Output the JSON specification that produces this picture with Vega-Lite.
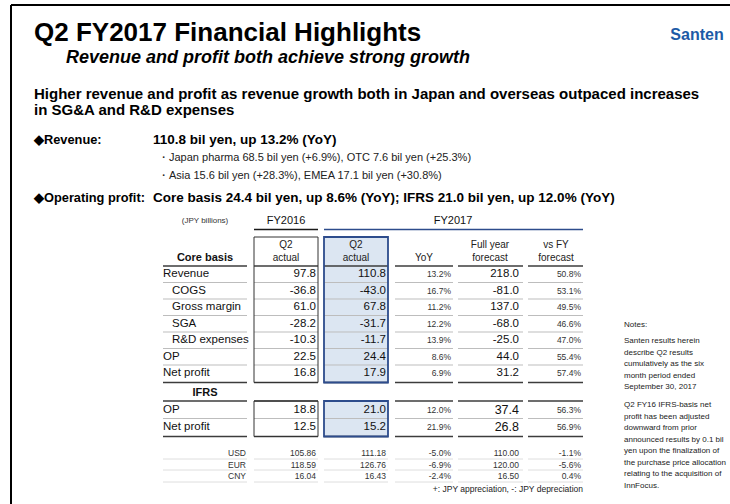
{
  "$schema": "https://vega.github.io/schema/vega-lite/v6.json",
  "width": 730,
  "height": 504,
  "autosize": "none",
  "padding": 0,
  "background": "white",
  "config": {"view": {"stroke": null}, "text": {"font": "Liberation Sans"}},
  "datasets": {
    "texts": [
      {"t": "Q2 FY2017 Financial Highlights", "c": 1, "r": 1, "k": "title"},
      {"t": "Santen", "c": 31, "r": 2, "k": "logo"},
      {"t": "Revenue and profit both achieve strong growth", "c": 2, "r": 3, "k": "sub"},
      {"t": "Higher revenue and profit as revenue growth both in Japan and overseas outpaced increases", "c": 1, "r": 4, "k": "head"},
      {"t": "in SG&A and R&D expenses", "c": 1, "r": 5, "k": "head"},
      {"t": "◆Revenue:", "c": 1, "r": 6, "k": "bull"},
      {"t": "110.8 bil yen, up 13.2% (YoY)", "c": 3, "r": 6, "k": "bulv"},
      {"t": "・Japan pharma 68.5 bil yen (+6.9%), OTC 7.6 bil yen (+25.3%)", "c": 4, "r": 7, "k": "bsub"},
      {"t": "・Asia 15.6 bil yen (+28.3%),  EMEA 17.1 bil yen (+30.8%)", "c": 4, "r": 8, "k": "bsub"},
      {"t": "◆Operating profit:", "c": 1, "r": 9, "k": "bull"},
      {"t": "Core basis 24.4 bil yen, up 8.6% (YoY);  IFRS 21.0 bil yen, up 12.0% (YoY)", "c": 3, "r": 9, "k": "bulv"},
      {"t": "(JPY billions)", "c": 7, "r": 10, "k": "unit"},
      {"t": "FY2016", "c": 11, "r": 10, "k": "fy"},
      {"t": "FY2017", "c": 21, "r": 10, "k": "fy"},
      {"t": "Q2", "c": 11, "r": 13, "k": "ch"},
      {"t": "actual", "c": 11, "r": 14, "k": "ch"},
      {"t": "Q2", "c": 15, "r": 13, "k": "ch"},
      {"t": "actual", "c": 15, "r": 14, "k": "ch"},
      {"t": "YoY", "c": 19, "r": 14, "k": "ch"},
      {"t": "Full year", "c": 23, "r": 13, "k": "ch"},
      {"t": "forecast", "c": 23, "r": 14, "k": "ch"},
      {"t": "vs FY", "c": 27, "r": 13, "k": "ch"},
      {"t": "forecast", "c": 27, "r": 14, "k": "ch"},
      {"t": "Core basis", "c": 7, "r": 14, "k": "sect"},
      {"t": "IFRS", "c": 7, "r": 30, "k": "sect"},
      {"t": "Revenue", "c": 5, "r": 16, "k": "lab"},
      {"t": "COGS", "c": 6, "r": 18, "k": "lab"},
      {"t": "Gross margin", "c": 6, "r": 20, "k": "lab"},
      {"t": "SGA", "c": 6, "r": 22, "k": "lab"},
      {"t": "R&D expenses", "c": 6, "r": 24, "k": "lab"},
      {"t": "OP", "c": 5, "r": 26, "k": "lab"},
      {"t": "Net profit", "c": 5, "r": 28, "k": "lab"},
      {"t": "OP", "c": 5, "r": 32, "k": "lab"},
      {"t": "Net profit", "c": 5, "r": 34, "k": "lab"},
      {"t": "97.8", "c": 12, "r": 16, "k": "val"},
      {"t": "110.8", "c": 16, "r": 16, "k": "val"},
      {"t": "13.2%", "c": 20, "r": 16, "k": "pct"},
      {"t": "218.0", "c": 24, "r": 16, "k": "val"},
      {"t": "50.8%", "c": 28, "r": 16, "k": "pct"},
      {"t": "-36.8", "c": 12, "r": 18, "k": "val"},
      {"t": "-43.0", "c": 16, "r": 18, "k": "val"},
      {"t": "16.7%", "c": 20, "r": 18, "k": "pct"},
      {"t": "-81.0", "c": 24, "r": 18, "k": "val"},
      {"t": "53.1%", "c": 28, "r": 18, "k": "pct"},
      {"t": "61.0", "c": 12, "r": 20, "k": "val"},
      {"t": "67.8", "c": 16, "r": 20, "k": "val"},
      {"t": "11.2%", "c": 20, "r": 20, "k": "pct"},
      {"t": "137.0", "c": 24, "r": 20, "k": "val"},
      {"t": "49.5%", "c": 28, "r": 20, "k": "pct"},
      {"t": "-28.2", "c": 12, "r": 22, "k": "val"},
      {"t": "-31.7", "c": 16, "r": 22, "k": "val"},
      {"t": "12.2%", "c": 20, "r": 22, "k": "pct"},
      {"t": "-68.0", "c": 24, "r": 22, "k": "val"},
      {"t": "46.6%", "c": 28, "r": 22, "k": "pct"},
      {"t": "-10.3", "c": 12, "r": 24, "k": "val"},
      {"t": "-11.7", "c": 16, "r": 24, "k": "val"},
      {"t": "13.9%", "c": 20, "r": 24, "k": "pct"},
      {"t": "-25.0", "c": 24, "r": 24, "k": "val"},
      {"t": "47.0%", "c": 28, "r": 24, "k": "pct"},
      {"t": "22.5", "c": 12, "r": 26, "k": "val"},
      {"t": "24.4", "c": 16, "r": 26, "k": "val"},
      {"t": "8.6%", "c": 20, "r": 26, "k": "pct"},
      {"t": "44.0", "c": 24, "r": 26, "k": "val"},
      {"t": "55.4%", "c": 28, "r": 26, "k": "pct"},
      {"t": "16.8", "c": 12, "r": 28, "k": "val"},
      {"t": "17.9", "c": 16, "r": 28, "k": "val"},
      {"t": "6.9%", "c": 20, "r": 28, "k": "pct"},
      {"t": "31.2", "c": 24, "r": 28, "k": "val"},
      {"t": "57.4%", "c": 28, "r": 28, "k": "pct"},
      {"t": "18.8", "c": 12, "r": 32, "k": "val"},
      {"t": "21.0", "c": 16, "r": 32, "k": "val"},
      {"t": "12.0%", "c": 20, "r": 32, "k": "pct"},
      {"t": "37.4", "c": 24, "r": 32, "k": "big"},
      {"t": "56.3%", "c": 28, "r": 32, "k": "pct"},
      {"t": "12.5", "c": 12, "r": 34, "k": "val"},
      {"t": "15.2", "c": 16, "r": 34, "k": "val"},
      {"t": "21.9%", "c": 20, "r": 34, "k": "pct"},
      {"t": "26.8", "c": 24, "r": 34, "k": "big"},
      {"t": "56.9%", "c": 28, "r": 34, "k": "pct"},
      {"t": "USD", "c": 8, "r": 36, "k": "ccy"},
      {"t": "105.86", "c": 12, "r": 36, "k": "ccy"},
      {"t": "111.18", "c": 16, "r": 36, "k": "ccy"},
      {"t": "-5.0%", "c": 20, "r": 36, "k": "ccy"},
      {"t": "110.00", "c": 24, "r": 36, "k": "ccy"},
      {"t": "-1.1%", "c": 28, "r": 36, "k": "ccy"},
      {"t": "EUR", "c": 8, "r": 38, "k": "ccy"},
      {"t": "118.59", "c": 12, "r": 38, "k": "ccy"},
      {"t": "126.76", "c": 16, "r": 38, "k": "ccy"},
      {"t": "-6.9%", "c": 20, "r": 38, "k": "ccy"},
      {"t": "120.00", "c": 24, "r": 38, "k": "ccy"},
      {"t": "-5.6%", "c": 28, "r": 38, "k": "ccy"},
      {"t": "CNY", "c": 8, "r": 40, "k": "ccy"},
      {"t": "16.04", "c": 12, "r": 40, "k": "ccy"},
      {"t": "16.43", "c": 16, "r": 40, "k": "ccy"},
      {"t": "-2.4%", "c": 20, "r": 40, "k": "ccy"},
      {"t": "16.50", "c": 24, "r": 40, "k": "ccy"},
      {"t": "0.4%", "c": 28, "r": 40, "k": "ccy"},
      {"t": "+: JPY appreciation, -: JPY depreciation", "c": 29, "r": 42, "k": "foot"},
      {"t": "Notes:", "c": 30, "r": 43, "k": "note"},
      {"t": "Santen results herein", "c": 30, "r": 44, "k": "note"},
      {"t": "describe Q2 results", "c": 30, "r": 45, "k": "note"},
      {"t": "cumulatively as the six", "c": 30, "r": 46, "k": "note"},
      {"t": "month period ended", "c": 30, "r": 47, "k": "note"},
      {"t": "September 30, 2017", "c": 30, "r": 48, "k": "note"},
      {"t": "Q2 FY16 IFRS-basis net", "c": 30, "r": 49, "k": "note"},
      {"t": "profit has been adjusted", "c": 30, "r": 50, "k": "note"},
      {"t": "downward from prior", "c": 30, "r": 51, "k": "note"},
      {"t": "announced results by 0.1 bil", "c": 30, "r": 52, "k": "note"},
      {"t": "yen upon the finalization of", "c": 30, "r": 53, "k": "note"},
      {"t": "the purchase price allocation", "c": 30, "r": 54, "k": "note"},
      {"t": "relating to the acquisition of", "c": 30, "r": 55, "k": "note"},
      {"t": "InnFocus.", "c": 30, "r": 56, "k": "note"}
    ],
    "hrules": [
      {"c": 0, "c2": 32, "r": 0, "k": "frame"},
      {"c": 5, "c2": 29, "r": 15, "k": "dark"},
      {"c": 5, "c2": 29, "r": 17, "k": "grey"},
      {"c": 5, "c2": 29, "r": 19, "k": "grey"},
      {"c": 5, "c2": 29, "r": 21, "k": "grey"},
      {"c": 5, "c2": 29, "r": 23, "k": "grey"},
      {"c": 5, "c2": 29, "r": 25, "k": "grey"},
      {"c": 5, "c2": 29, "r": 27, "k": "grey"},
      {"c": 5, "c2": 29, "r": 29, "k": "dark"},
      {"c": 5, "c2": 29, "r": 31, "k": "dark"},
      {"c": 5, "c2": 29, "r": 33, "k": "grey"},
      {"c": 5, "c2": 29, "r": 35, "k": "dark"},
      {"c": 5, "c2": 29, "r": 37, "k": "light"},
      {"c": 5, "c2": 29, "r": 39, "k": "light"},
      {"c": 5, "c2": 29, "r": 41, "k": "light"},
      {"c": 10, "c2": 13, "r": 11, "k": "fy16"},
      {"c": 14, "c2": 29, "r": 11, "k": "fy17"}
    ],
    "vrules": [
      {"c": 0, "r": 0, "r2": 57, "k": "frame"}
    ],
    "rects": [
      {"c": 14, "c2": 17, "r": 12, "r2": 29, "k": "fill17"},
      {"c": 14, "c2": 17, "r": 31, "r2": 35, "k": "fill17"},
      {"c": 9, "c2": 10, "r": 58, "r2": 59, "k": "gap"},
      {"c": 13, "c2": 14, "r": 58, "r2": 59, "k": "gap"},
      {"c": 17, "c2": 18, "r": 58, "r2": 59, "k": "gap"},
      {"c": 21, "c2": 22, "r": 58, "r2": 59, "k": "gap"},
      {"c": 25, "c2": 26, "r": 58, "r2": 59, "k": "gap"},
      {"c": 10, "c2": 13, "r": 12, "r2": 29, "k": "box16"},
      {"c": 10, "c2": 13, "r": 31, "r2": 35, "k": "box16"},
      {"c": 14, "c2": 17, "r": 12, "r2": 29, "k": "box17"},
      {"c": 14, "c2": 17, "r": 31, "r2": 35, "k": "box17"}
    ]
  },
  "encoding": {
    "x": {
      "field": "c",
      "type": "quantitative",
      "axis": null,
      "scale": {
        "nice": false,
        "zero": false,
        "domain": [0,1,2,3,4,5,6,7,8,9,10,11,12,13,14,15,16,17,18,19,20,21,22,23,24,25,26,27,28,29,30,31,32],
        "range": [11,34,66,153,158,163,172,205,246,247,254,286,316,318,324,356,386,388,395,424,451,453,458,490,519,523,528,556,581,583,624,697,730]
      }
    },
    "y": {
      "field": "r",
      "type": "quantitative",
      "axis": null,
      "scale": {
        "nice": false,
        "zero": false,
        "domain": [0,1,2,3,4,5,6,7,8,9,10,11,12,13,14,15,16,17,18,19,20,21,22,23,24,25,26,27,28,29,30,31,32,33,34,35,36,37,38,39,40,41,42,43,44,45,46,47,48,49,50,51,52,53,54,55,56,57,58,59],
        "range": [5,33,35,58,94,109.5,140,158,176,198,221,229.5,237,245,258,266,274,282.5,290.5,299,307,315.5,324,332,340,348.5,357,365,373,382.5,393,401,410,418.5,427,436.5,453,459,464.5,470,476,482,489,325,341,352.5,364,375.5,387,405,416.5,428,439.5,451,462.5,474,485.5,504,263,485]
      }
    }
  },
  "layer": [
    {"data": {"name": "rects"}, "transform": [{"filter": "datum.k === 'fill17'"}],
     "mark": {"type": "rect", "color": "#dce6f2", "strokeWidth": 0},
     "encoding": {"x2": {"field": "c2"}, "y2": {"field": "r2"}}},
    {"data": {"name": "hrules"}, "transform": [{"filter": "datum.k === 'grey'"}],
     "mark": {"type": "rule", "color": "#bdbdbd", "strokeWidth": 1},
     "encoding": {"x2": {"field": "c2"}}},
    {"data": {"name": "hrules"}, "transform": [{"filter": "datum.k === 'light'"}],
     "mark": {"type": "rule", "color": "#dedede", "strokeWidth": 1},
     "encoding": {"x2": {"field": "c2"}}},
    {"data": {"name": "hrules"}, "transform": [{"filter": "datum.k === 'dark'"}],
     "mark": {"type": "rule", "color": "#3c3c3c", "strokeWidth": 1.5},
     "encoding": {"x2": {"field": "c2"}}},
    {"data": {"name": "rects"}, "transform": [{"filter": "datum.k === 'gap'"}],
     "mark": {"type": "rect", "color": "white", "strokeWidth": 0},
     "encoding": {"x2": {"field": "c2"}, "y2": {"field": "r2"}}},
    {"data": {"name": "hrules"}, "transform": [{"filter": "datum.k === 'fy16'"}],
     "mark": {"type": "rule", "color": "#1a1a1a", "strokeWidth": 1.6},
     "encoding": {"x2": {"field": "c2"}}},
    {"data": {"name": "hrules"}, "transform": [{"filter": "datum.k === 'fy17'"}],
     "mark": {"type": "rule", "color": "#2d4c8c", "strokeWidth": 1.6},
     "encoding": {"x2": {"field": "c2"}}},
    {"data": {"name": "rects"}, "transform": [{"filter": "datum.k === 'box16'"}],
     "mark": {"type": "rect", "fillOpacity": 0, "fill": "white", "stroke": "#333333", "strokeWidth": 1},
     "encoding": {"x2": {"field": "c2"}, "y2": {"field": "r2"}}},
    {"data": {"name": "rects"}, "transform": [{"filter": "datum.k === 'box17'"}],
     "mark": {"type": "rect", "fillOpacity": 0, "fill": "white", "stroke": "#2d4c8c", "strokeWidth": 1.8},
     "encoding": {"x2": {"field": "c2"}, "y2": {"field": "r2"}}},
    {"data": {"name": "hrules"}, "transform": [{"filter": "datum.k === 'frame'"}],
     "mark": {"type": "rule", "color": "#000000", "strokeWidth": 2},
     "encoding": {"x2": {"field": "c2"}}},
    {"data": {"name": "vrules"},
     "mark": {"type": "rule", "color": "#000000", "strokeWidth": 2},
     "encoding": {"y2": {"field": "r2"}}},
    {"data": {"name": "texts"}, "transform": [{"filter": "datum.k === 'title'"}],
     "mark": {"type": "text", "align": "left", "baseline": "middle", "fontSize": 26, "fontWeight": "bold", "color": "#000000"},
     "encoding": {"text": {"field": "t"}}},
    {"data": {"name": "texts"}, "transform": [{"filter": "datum.k === 'logo'"}],
     "mark": {"type": "text", "align": "center", "baseline": "middle", "font": "Liberation Sans", "fontSize": 16, "fontWeight": "bold", "color": "#1d5aa6"},
     "encoding": {"text": {"field": "t"}}},
    {"data": {"name": "texts"}, "transform": [{"filter": "datum.k === 'sub'"}],
     "mark": {"type": "text", "align": "left", "baseline": "middle", "fontSize": 18, "fontWeight": "bold", "fontStyle": "italic", "color": "#000000"},
     "encoding": {"text": {"field": "t"}}},
    {"data": {"name": "texts"}, "transform": [{"filter": "datum.k === 'head'"}],
     "mark": {"type": "text", "align": "left", "baseline": "middle", "fontSize": 15, "fontWeight": "bold", "color": "#000000"},
     "encoding": {"text": {"field": "t"}}},
    {"data": {"name": "texts"}, "transform": [{"filter": "datum.k === 'bull'"}],
     "mark": {"type": "text", "align": "left", "baseline": "middle", "fontSize": 12.8, "fontWeight": "bold", "color": "#000000"},
     "encoding": {"text": {"field": "t"}}},
    {"data": {"name": "texts"}, "transform": [{"filter": "datum.k === 'bulv'"}],
     "mark": {"type": "text", "align": "left", "baseline": "middle", "fontSize": 13.5, "fontWeight": "bold", "color": "#000000"},
     "encoding": {"text": {"field": "t"}}},
    {"data": {"name": "texts"}, "transform": [{"filter": "datum.k === 'bsub'"}],
     "mark": {"type": "text", "align": "left", "baseline": "middle", "fontSize": 11, "color": "#222222"},
     "encoding": {"text": {"field": "t"}}},
    {"data": {"name": "texts"}, "transform": [{"filter": "datum.k === 'unit'"}],
     "mark": {"type": "text", "align": "center", "baseline": "middle", "fontSize": 8, "color": "#333333"},
     "encoding": {"text": {"field": "t"}}},
    {"data": {"name": "texts"}, "transform": [{"filter": "datum.k === 'fy'"}],
     "mark": {"type": "text", "align": "center", "baseline": "middle", "fontSize": 11, "color": "#111111"},
     "encoding": {"text": {"field": "t"}}},
    {"data": {"name": "texts"}, "transform": [{"filter": "datum.k === 'ch'"}],
     "mark": {"type": "text", "align": "center", "baseline": "middle", "fontSize": 10, "color": "#222222"},
     "encoding": {"text": {"field": "t"}}},
    {"data": {"name": "texts"}, "transform": [{"filter": "datum.k === 'sect'"}],
     "mark": {"type": "text", "align": "center", "baseline": "middle", "fontSize": 11, "fontWeight": "bold", "color": "#111111"},
     "encoding": {"text": {"field": "t"}}},
    {"data": {"name": "texts"}, "transform": [{"filter": "datum.k === 'lab'"}],
     "mark": {"type": "text", "align": "left", "baseline": "middle", "fontSize": 11.5, "color": "#111111"},
     "encoding": {"text": {"field": "t"}}},
    {"data": {"name": "texts"}, "transform": [{"filter": "datum.k === 'val'"}],
     "mark": {"type": "text", "align": "right", "baseline": "middle", "fontSize": 11.5, "color": "#111111"},
     "encoding": {"text": {"field": "t"}}},
    {"data": {"name": "texts"}, "transform": [{"filter": "datum.k === 'big'"}],
     "mark": {"type": "text", "align": "right", "baseline": "middle", "fontSize": 12.5, "color": "#111111"},
     "encoding": {"text": {"field": "t"}}},
    {"data": {"name": "texts"}, "transform": [{"filter": "datum.k === 'pct'"}],
     "mark": {"type": "text", "align": "right", "baseline": "middle", "fontSize": 8.5, "color": "#333333"},
     "encoding": {"text": {"field": "t"}}},
    {"data": {"name": "texts"}, "transform": [{"filter": "datum.k === 'ccy'"}],
     "mark": {"type": "text", "align": "right", "baseline": "middle", "fontSize": 8.5, "color": "#333333"},
     "encoding": {"text": {"field": "t"}}},
    {"data": {"name": "texts"}, "transform": [{"filter": "datum.k === 'foot'"}],
     "mark": {"type": "text", "align": "right", "baseline": "middle", "fontSize": 8.5, "color": "#222222"},
     "encoding": {"text": {"field": "t"}}},
    {"data": {"name": "texts"}, "transform": [{"filter": "datum.k === 'note'"}],
     "mark": {"type": "text", "align": "left", "baseline": "middle", "fontSize": 8, "color": "#222222"},
     "encoding": {"text": {"field": "t"}}}
  ]
}
